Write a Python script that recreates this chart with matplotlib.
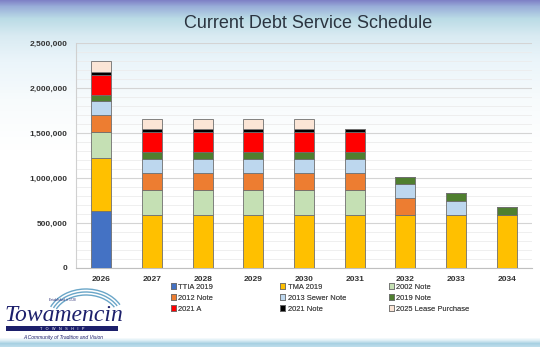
import numpy as np
import matplotlib
matplotlib.use("Agg")
import matplotlib.pyplot as plt
from matplotlib.patches import Rectangle, Arc
from matplotlib.ticker import FuncFormatter, MultipleLocator

plt.rcParams["font.family"] = ["Liberation Sans", "DejaVu Sans"]

# ---- data -------------------------------------------------------------
years = ["2026", "2027", "2028", "2029", "2030", "2031", "2032", "2033", "2034"]

ttia_2019 = [630000, 0, 0, 0, 0, 0, 0, 0, 0]
tma_2019 = [593000, 593000, 593000, 593000, 593000, 593000, 593000, 593000, 593000]
note_2002 = [284000, 278000, 278000, 278000, 278000, 278000, 0, 0, 0]
note_2012 = [190000, 185000, 185000, 185000, 185000, 185000, 185000, 0, 0]
sewer_2013 = [155000, 155000, 155000, 155000, 155000, 155000, 155000, 150000, 0]
note_2019 = [75000, 75000, 75000, 75000, 75000, 75000, 78000, 85000, 80000]
a_2021 = [215000, 222000, 222000, 222000, 222000, 222000, 0, 0, 0]
note_2021 = [37000, 37000, 37000, 37000, 37000, 37000, 0, 0, 0]
lease_2025 = [126000, 115000, 115000, 115000, 115000, 0, 0, 0, 0]

series_names = ["TTIA 2019", "TMA 2019", "2002 Note", "2012 Note", "2013 Sewer Note",
                "2019 Note", "2021 A", "2021 Note", "2025 Lease Purchase"]
series_values = [ttia_2019, tma_2019, note_2002, note_2012, sewer_2013,
                 note_2019, a_2021, note_2021, lease_2025]
series_colors = ["#4472C4", "#FFC000", "#C5E0B4", "#ED7D31", "#BDD7EE",
                 "#4F7F2F", "#FF0000", "#000000", "#FBE5D6"]

W, H = 540, 347
fig = plt.figure(figsize=(W / 100, H / 100), dpi=100)

# ---- background gradient ----------------------------------------------
stops_y = [0, 6, 18, 35, 60, 100, 150, 337, 340, 343, 347]
stops_c = [(0.50, 0.51, 0.78), (0.60, 0.68, 0.85), (0.73, 0.86, 0.90),
           (0.85, 0.92, 0.95), (0.92, 0.96, 0.98), (0.97, 0.985, 0.99),
           (1, 1, 1), (1, 1, 1), (0.86, 0.93, 0.96), (0.66, 0.82, 0.89),
           (0.76, 0.88, 0.93)]
ys = np.arange(H)
grad = np.stack([np.interp(ys, stops_y, [c[i] for c in stops_c]) for i in range(3)], axis=-1)
img = np.repeat(grad[:, None, :], W, axis=1)
bg = fig.add_axes([0, 0, 1, 1], zorder=-10)
bg.imshow(img, aspect="auto", extent=[0, W, H, 0])
bg.set_xlim(0, W)
bg.set_ylim(H, 0)
bg.axis("off")

# ---- main chart -------------------------------------------------------
left, right, top, bottom = 76, 532, 43, 268
ax = fig.add_axes([left / W, 1 - bottom / H, (right - left) / W, (bottom - top) / H])
ax.patch.set_alpha(0)

x = np.arange(len(years))
base = np.zeros(len(years))
handles = []
for name, vals, col in zip(series_names, series_values, series_colors):
    v = np.array(vals, dtype=float)
    bars = ax.bar(x, v, 0.4, bottom=base, color=col, edgecolor="#6f6f6f",
                  linewidth=0.6, label=name, zorder=3)
    handles.append(bars)
    base += v

ax.set_xlim(-0.5, len(years) - 0.5)
ax.set_ylim(0, 2500000)
ax.yaxis.set_major_locator(MultipleLocator(500000))
ax.yaxis.set_minor_locator(MultipleLocator(100000))
ax.yaxis.set_major_formatter(FuncFormatter(lambda v, p: f"{int(v):,}"))
ax.grid(axis="y", which="major", color="#d4d4d4", linewidth=0.8, zorder=0)
ax.grid(axis="y", which="minor", color="#ececec", linewidth=0.6, zorder=0)
ax.set_xticks(x)
ax.set_xticklabels(years)
for lab in ax.get_xticklabels() + ax.get_yticklabels():
    lab.set_fontweight("bold")
    lab.set_fontsize(6)
    lab.set_color("#333333")
ax.tick_params(axis="both", which="both", length=0)
ax.tick_params(axis="x", pad=6)
ax.tick_params(axis="y", pad=6)
for s in ["top", "right"]:
    ax.spines[s].set_visible(False)
ax.spines["left"].set_color("#d0d0d0")
ax.spines["bottom"].set_color("#bfbfbf")
ax.spines["left"].set_linewidth(0.8)
ax.spines["bottom"].set_linewidth(0.8)

fig.text(308 / W, 1 - 23 / H, "Current Debt Service Schedule", ha="center", va="center",
         fontsize=13, color="#2b3440")

# ---- legend: three columns, entries read row-wise ----------------------
col_x = [171, 280, 389]
row_y = [287, 298, 309]
for i, (name, col) in enumerate(zip(series_names, series_colors)):
    r, c = divmod(i, 3)
    leg = fig.legend([handles[i][0]], [name], loc="center left",
                     bbox_to_anchor=(col_x[c] / W, 1 - row_y[r] / H),
                     frameon=False, fontsize=5.4, handlelength=0.7, handleheight=0.7,
                     handletextpad=0.3, borderpad=0, borderaxespad=0, labelcolor="#505050")
    fig.add_artist(leg)

# ---- township logo ----------------------------------------------------
navy = "#1c1f6b"
for r in [0.0, 3.0, 6.0]:
    arc = Arc((86 / W, 1 - 320 / H), (66 + r * 2) / W, (50 + r * 2) / H,
              theta1=35, theta2=150, color="#6aa6c8", linewidth=1.0,
              transform=fig.transFigure)
    fig.add_artist(arc)
fig.text(62 / W, 1 - 300 / H, "Established in 1728", fontsize=2.2, color=navy,
         ha="center", va="center")
fig.text(4 / W, 1 - 326 / H, "Towamencin", fontsize=17, color=navy,
         fontfamily="Liberation Serif", style="italic", ha="left", va="bottom")
fig.add_artist(Rectangle((6 / W, 1 - 331 / H), 112 / W, 5 / H, transform=fig.transFigure,
                         facecolor=navy, edgecolor="none"))
fig.text(62 / W, 1 - 328.6 / H, "T   O   W   N   S   H   I   P", fontsize=2.8, color="white",
         ha="center", va="center")
fig.text(63 / W, 1 - 337 / H, "A Community of Tradition and Vision", fontsize=3.6,
         color=navy, style="italic", ha="center", va="center")

fig.savefig("out.png", dpi=100)
